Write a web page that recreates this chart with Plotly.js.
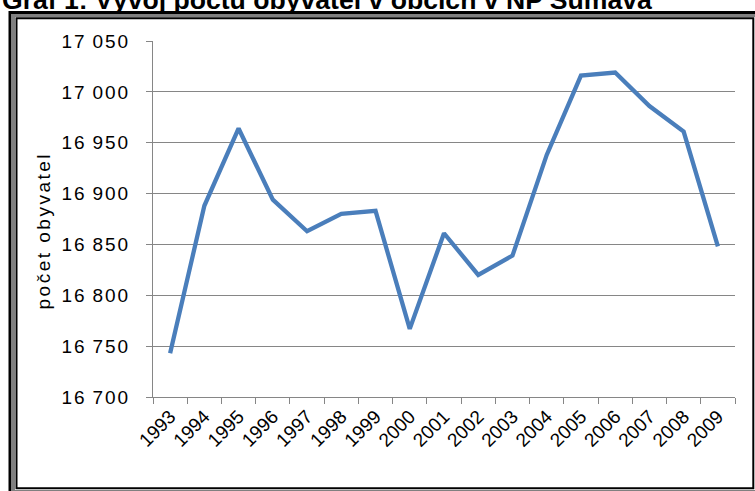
<!DOCTYPE html>
<html>
<head>
<meta charset="utf-8">
<script src="https://cdn.plot.ly/plotly-3.0.1.min.js"></script>
<style>
html, body { margin: 0; padding: 0; background: #ffffff; }
#chart { width: 755px; height: 491px; }
</style>
</head>
<body>
<div id="chart"></div>
<script>
// ---- data ----
const years = ["1993","1994","1995","1996","1997","1998","1999","2000","2001","2002","2003","2004","2005","2006","2007","2008","2009"];
const population = [16743, 16888, 16964, 16894, 16863, 16880, 16883, 16767, 16861, 16820, 16839, 16938, 17016, 17019, 16986, 16961, 16848];
const yTickVals = [16700, 16750, 16800, 16850, 16900, 16950, 17000, 17050];
const yTickText = ["16\u2009700", "16\u2009750", "16\u2009800", "16\u2009850", "16\u2009900", "16\u2009950", "17\u2009000", "17\u2009050"];
const chartTitle = "Graf 1: Vývoj počtu obyvatel v obcích v NP Šumava";
const yTitle = "počet obyvatel";

// ---- geometry helpers (pixel -> paper) ----
const W = 755, H = 491;
const M = { l: 153, r: 20, t: 41, b: 94 };
const PW = W - M.l - M.r, PH = H - M.t - M.b;
const fx = px => (px - M.l) / PW;
const fy = py => (H - M.b - py) / PH;

const gridCol = "#868686";

function frameRect(x0, y0, x1, y1, color, width) {
  return { type: "rect", xref: "paper", yref: "paper", layer: "above",
    x0: fx(x0), y0: fy(y0), x1: fx(x1), y1: fy(y1),
    line: { color: color, width: width }, fillcolor: "rgba(0,0,0,0)" };
}

const trace = {
  type: "scatter", mode: "lines",
  x: years, y: population,
  line: { color: "#4A7EBB", width: 4.3 },
  hoverinfo: "x+y"
};

const layout = {
  width: W, height: H,
  margin: M,
  paper_bgcolor: "#ffffff", plot_bgcolor: "#ffffff",
  showlegend: false,
  font: { family: "Liberation Sans, Arial, sans-serif", color: "#000000" },
  xaxis: {
    type: "category",
    range: [-0.5, years.length - 0.5],
    showgrid: false, zeroline: false,
    showline: true, linecolor: gridCol, linewidth: 1,
    ticks: "outside", tickson: "boundaries", ticklen: 6, tickcolor: gridCol, tickwidth: 1,
    tickangle: -45,
    tickfont: { family: "Liberation Sans, Arial, sans-serif", size: 19, color: "#000000" }
  },
  yaxis: {
    range: [16700, 17050],
    tickvals: yTickVals, ticktext: yTickText,
    showgrid: true, gridcolor: gridCol, gridwidth: 1,
    zeroline: false,
    showline: true, linecolor: gridCol, linewidth: 1,
    ticks: "outside", ticklen: 6, tickcolor: gridCol, tickwidth: 1,
    ticklabelstandoff: 12,
    tickfont: { family: "Liberation Sans, Arial, sans-serif", size: 19, color: "#000000" }
  },
  annotations: [
    { text: "<b>" + chartTitle + "</b>", xref: "paper", yref: "paper",
      x: fx(0), y: fy(0), xanchor: "left", yanchor: "middle", showarrow: false,
      font: { family: "Liberation Sans, Arial, sans-serif", size: 26.6, color: "#000000" } },
    { text: yTitle, xref: "paper", yref: "paper", textangle: -90,
      x: fx(43), y: fy(231), xanchor: "center", yanchor: "middle", showarrow: false,
      font: { family: "Liberation Sans, Arial, sans-serif", size: 19, color: "#000000" } }
  ],
  shapes: [
    frameRect(10, 12.5, 761, 495, "#000000", 3),
    frameRect(13.5, 15.4, 757, 491.5, "#808080", 3),
    frameRect(16.5, 18.3, 753.3, 488.3, "#000000", 2)
  ]
};

Plotly.newPlot("chart", [trace], layout, { staticPlot: true, displayModeBar: false }).then(function () {
  document.querySelectorAll("#chart .ytick text").forEach(function (t) { t.style.letterSpacing = "2px"; });
  const ann = document.querySelectorAll("#chart .annotation-text");
  if (ann.length > 1) ann[1].style.letterSpacing = "2.5px";
});
</script>
</body>
</html>
